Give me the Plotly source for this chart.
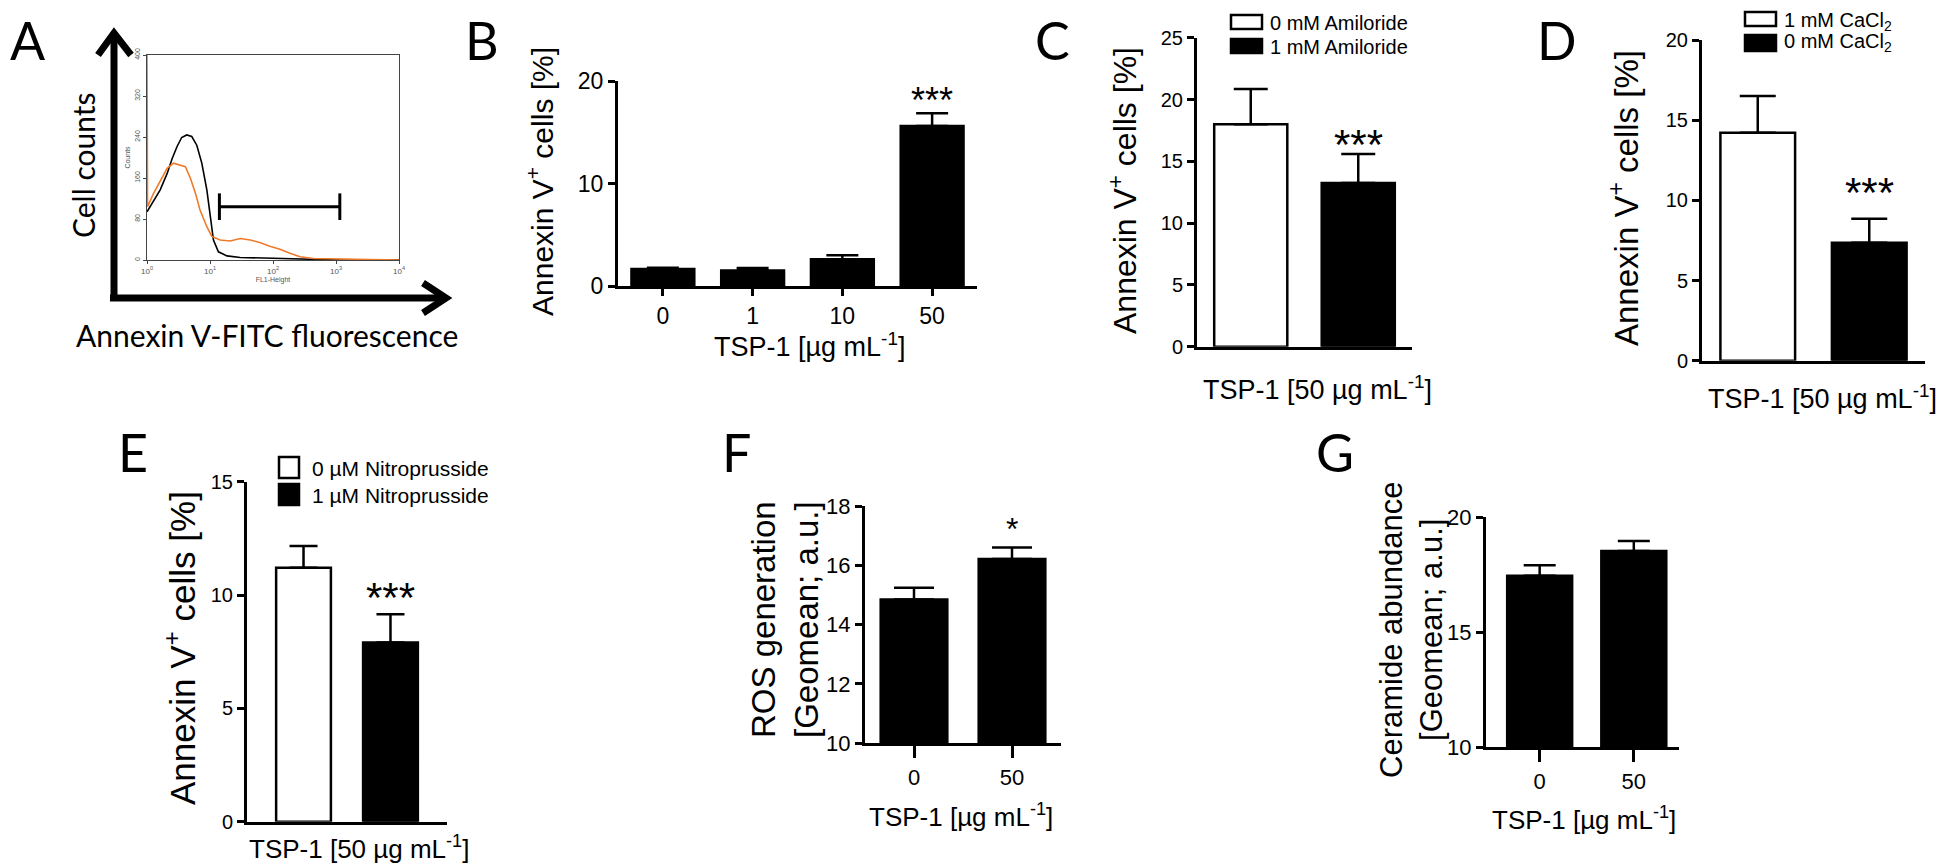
import plotly.graph_objects as go

W, H = 1946, 868
OFF = 8  # the page body margin that shifts the figure inside the window
FONT = "Liberation Sans, Arial, sans-serif"
LFONT = "Lato, Open Sans, sans-serif"
LETTER_FONT = "Liberation Sans Narrow, Lato, sans-serif"

# ---------------- data ----------------
# Panel A: flow cytometry histogram (FL1-Height vs counts)
fl_black = [1.0, 1.27, 1.62, 2.09, 2.51, 2.99, 3.55, 4.27, 5.13, 6.17, 7.41, 8.91, 10.0,
            11.35, 13.6, 18.6, 30.2, 55.0, 100.0, 186.0, 339.0, 1148.0, 10000.0]
cnt_black = [94, 114, 137, 169, 198, 221, 239, 244, 241, 224, 189, 137, 85,
             39, 16, 8, 5, 4, 3, 2, 1, 0, 0]
fl_orange = [1.0, 1.02, 1.27, 1.62, 2.09, 2.63, 3.39, 4.07, 4.9, 5.89, 6.92, 8.91, 10.7,
             14.5, 20.9, 30.2, 43.7, 61.7, 89.1, 129.0, 186.0, 269.0, 437.0, 1148.0, 3890.0, 10000.0]
cnt_orange = [400, 104, 130, 153, 179, 189, 185, 182, 159, 130, 98, 65, 46,
              39, 37, 42, 39, 34, 27, 21, 13, 6.5, 3, 2, 1.3, 0]
gate_fl = [14.1, 1150.0]
gate_cnt = 104
gate_ends = [78, 130]

# Panel B
b_cats = ["0", "1", "10", "50"]
b_mean = [1.66, 1.5, 2.6, 15.6]
b_sem = [0.12, 0.25, 0.4, 1.25]
# Panel C
c_groups = ["0 mM Amiloride", "1 mM Amiloride"]
c_mean = [18.0, 13.24]
c_sem = [2.85, 2.36]
# Panel D
d_groups = ["1 mM CaCl<sub>2</sub>", "0 mM CaCl<sub>2</sub>"]
d_mean = [14.22, 7.36]
d_sem = [2.28, 1.5]
# Panel E
e_groups = ["0 µM Nitroprusside", "1 µM Nitroprusside"]
e_mean = [11.2, 7.91]
e_sem = [0.96, 1.24]
# Panel F
f_cats = ["0", "50"]
f_mean = [14.85, 16.21]
f_sem = [0.39, 0.39]
# Panel G
g_cats = ["0", "50"]
g_mean = [17.46, 18.53]
g_sem = [0.45, 0.44]

fills_two = ["white", "black"]


def px(x):
    return (x - OFF) / W


def py(y):
    return 1 - (y - OFF) / H


fig = go.Figure()

# ---------------- Panel A ----------------
fig.add_trace(go.Scatter(x=fl_black, y=cnt_black, mode="lines", line=dict(color="black", width=1.6),
                         xaxis="x", yaxis="y", hoverinfo="skip"))
fig.add_trace(go.Scatter(x=fl_orange, y=cnt_orange, mode="lines", line=dict(color="#F07a2a", width=1.6),
                         xaxis="x", yaxis="y", hoverinfo="skip"))
fig.add_trace(go.Scatter(
    x=[gate_fl[0], gate_fl[1], None, gate_fl[0], gate_fl[0], None, gate_fl[1], gate_fl[1]],
    y=[gate_cnt, gate_cnt, None, gate_ends[0], gate_ends[1], None, gate_ends[0], gate_ends[1]],
    mode="lines", line=dict(color="black", width=3), xaxis="x", yaxis="y", hoverinfo="skip"))


def bar_panel(n, mean, sem, fills, width, cap):
    fig.add_trace(go.Bar(
        x=list(range(len(mean))), y=mean, width=width,
        marker=dict(color=fills, line=dict(color="black", width=2.5)),
        error_y=dict(type="data", array=sem, arrayminus=[0] * len(mean), symmetric=False,
                     color="black", thickness=2.5, width=cap),
        xaxis="x%d" % n, yaxis="y%d" % n, hoverinfo="skip"))


bar_panel(2, b_mean, b_sem, ["black"] * len(b_mean), 0.7, 16)
bar_panel(3, c_mean, c_sem, fills_two, 0.68, 17)
bar_panel(4, d_mean, d_sem, fills_two, 0.67, 18)
bar_panel(5, e_mean, e_sem, fills_two, 0.63, 14)
bar_panel(6, f_mean, f_sem, ["black"] * len(f_mean), 0.68, 20)
bar_panel(7, g_mean, g_sem, ["black"] * len(g_mean), 0.69, 16)


def xax(l, r, rng, anchor, ticks="", ticklen=7, tickvals=None, ticktext=None, fs=22):
    d = dict(domain=[px(l), px(r)], range=rng, anchor=anchor, showline=True, linecolor="black",
             linewidth=3, showgrid=False, zeroline=False, ticks=ticks, ticklen=ticklen,
             tickwidth=3, tickcolor="black", automargin=False,
             tickfont=dict(family=FONT, size=fs, color="black"))
    if tickvals is not None:
        d.update(tickmode="array", tickvals=tickvals, ticktext=ticktext, showticklabels=True)
    else:
        d.update(showticklabels=False)
    return d


def yax(t, b, rng, dtick, anchor, fs=22):
    return dict(domain=[py(b), py(t)], range=rng, dtick=dtick, tick0=rng[0], anchor=anchor,
                showline=True, linecolor="black", linewidth=3, showgrid=False, zeroline=False,
                ticks="outside", ticklen=7, tickwidth=3, tickcolor="black", automargin=False,
                tickfont=dict(family=FONT, size=fs, color="black"))


layout = dict(
    width=W, height=H, margin=dict(l=0, r=0, t=0, b=0, autoexpand=False), paper_bgcolor="white",
    plot_bgcolor="white", showlegend=False,
    xaxis=dict(domain=[px(147), px(399)], type="log", range=[0, 4], anchor="y", automargin=False,
               showline=True, mirror=True, linecolor="#444", linewidth=1, showgrid=False,
               zeroline=False, ticks="outside", ticklen=3, tickcolor="#444",
               tickmode="array", tickvals=[1, 10, 100, 1000, 10000],
               ticktext=["10<sup>0</sup>", "10<sup>1</sup>", "10<sup>2</sup>", "10<sup>3</sup>", "10<sup>4</sup>"],
               tickfont=dict(family=FONT, size=8, color="#555"),
               title=dict(text="FL1-Height", font=dict(family=FONT, size=7, color="#555"), standoff=2)),
    yaxis=dict(domain=[py(260), py(55)], range=[0, 400], anchor="x", showline=True, mirror=True,
               linecolor="#444", linewidth=1, showgrid=False, zeroline=False, ticks="outside",
               ticklen=3, tickcolor="#444", tickmode="array", tickvals=[0, 80, 160, 240, 320, 400],
               tickangle=-90, tickfont=dict(family=FONT, size=7, color="#555"), automargin=False,
               title=dict(text="Counts", font=dict(family=FONT, size=7, color="#555"), standoff=2)),
    xaxis2=xax(618, 977, [-0.5, 3.5], "y2", ticks="outside", ticklen=7,
               tickvals=list(range(len(b_cats))), ticktext=b_cats, fs=23),
    yaxis2=yax(81, 286, [0, 20], 10, "x2", fs=23),
    xaxis3=xax(1197, 1412, [-0.5, 1.5], "y3"),
    yaxis3=yax(37.7, 346.7, [0, 25], 5, "x3", fs=20),
    xaxis4=xax(1702, 1925, [-0.5, 1.5], "y4"),
    yaxis4=yax(40, 360.7, [0, 20], 5, "x4", fs=20),
    xaxis5=xax(247, 447, [-0.65, 1.65], "y5"),
    yaxis5=yax(481.7, 821.7, [0, 15], 5, "x5", fs=20),
    xaxis6=xax(865, 1061, [-0.5, 1.5], "y6", ticks="outside", ticklen=12,
               tickvals=list(range(len(f_cats))), ticktext=f_cats, fs=22),
    yaxis6=yax(506, 743.3, [10, 18], 2, "x6", fs=22),
    xaxis7=xax(1486, 1679, [-0.57, 1.48], "y7", ticks="outside", ticklen=12,
               tickvals=list(range(len(g_cats))), ticktext=g_cats, fs=22),
    yaxis7=yax(517.3, 747.3, [10, 20], 5, "x7", fs=22),
)
fig.update_layout(**layout)

ann = []


def text(x, y, s, size, family=FONT, angle=0, xanchor="center"):
    ann.append(dict(x=px(x), y=py(y), xref="paper", yref="paper", text=s, showarrow=False,
                    textangle=angle, xanchor=xanchor, yanchor="middle",
                    font=dict(family=family, size=size, color="black")))


# panel letters
for letter, (lx, ly) in {"A": (28, 40), "B": (482, 40), "C": (1052, 40), "D": (1557, 40),
                         "E": (133, 452), "F": (736, 452), "G": (1335, 452)}.items():
    text(lx, ly, letter, 52, family=LETTER_FONT)

# panel A axis labels
text(83, 165, "Cell counts", 30, family=LFONT, angle=-90)
text(267, 335, "Annexin V-FITC fluorescence", 30, family=LFONT)

annexin = "Annexin V<sup>+</sup> cells [%]"
tsp = "TSP-1 [µg mL<sup>-1</sup>]"
tsp50 = "TSP-1 [50 µg mL<sup>-1</sup>]"
text(540, 182, annexin, 30, angle=-90)
text(809, 345, tsp, 27)
text(1123, 191, annexin, 32, angle=-90)
text(1317, 388, tsp50, 27)
text(1624, 198, annexin, 33, angle=-90)
text(1822, 397, tsp50, 27)
text(180, 648, annexin, 35, angle=-90)
text(359, 847, tsp50, 26)
text(785, 620, "ROS generation<br>[Geomean; a.u.]", 33, angle=-90)
text(961, 815, tsp, 26)
text(1411, 630, "Ceramide abundance<br>[Geomean; a.u.]", 31, angle=-90)
text(1584, 818, tsp, 26)

# legends (text)
text(1268, 23, c_groups[0], 20, xanchor="left")
text(1268, 47, c_groups[1], 20, xanchor="left")
text(1782, 21, d_groups[0], 20, xanchor="left")
text(1782, 43, d_groups[1], 20, xanchor="left")
text(310, 468, e_groups[0], 21, xanchor="left")
text(310, 495, e_groups[1], 21, xanchor="left")


# significance stars
def star(n, i, mean, sem, s, size, shift):
    ann.append(dict(x=i, y=mean[i] + sem[i], xref="x%d" % n, yref="y%d" % n, text=s,
                    showarrow=False, yanchor="middle", yshift=shift,
                    font=dict(family=FONT, size=size, color="black")))


star(2, 3, b_mean, b_sem, "***", 36, 13)
star(3, 1, c_mean, c_sem, "***", 42, 9)
star(4, 1, d_mean, d_sem, "***", 42, 26)
star(5, 1, e_mean, e_sem, "***", 42, 17)
star(6, 1, f_mean, f_sem, "*", 32, 19)

fig.update_layout(annotations=ann)

shapes = []


def box(x0, y0, x1, y1, fill):
    shapes.append(dict(type="rect", xref="paper", yref="paper", x0=px(x0), x1=px(x1),
                       y0=py(y1), y1=py(y0), fillcolor=fill, line=dict(color="black", width=2.5)))


box(1231, 15, 1262, 29, "white")
box(1231, 39, 1262, 53, "black")
box(1745, 12, 1776, 26, "white")
box(1745, 35, 1776, 51, "black")
box(279, 457, 299, 478, "white")
box(279, 484, 299, 505, "black")


def path(pts, width):
    d = "M " + " L ".join("%f,%f" % (px(a), py(b)) for a, b in pts)
    shapes.append(dict(type="path", xref="paper", yref="paper", path=d,
                       line=dict(color="black", width=width)))


# big axis arrows of panel A
path([(114, 298), (114, 34)], 7)
path([(98, 55), (114, 33), (131, 55)], 7)
path([(110, 298), (445, 298)], 7)
path([(423, 283), (446, 298), (423, 313)], 7)

fig.update_layout(shapes=shapes)

fig.write_html("out.html")
